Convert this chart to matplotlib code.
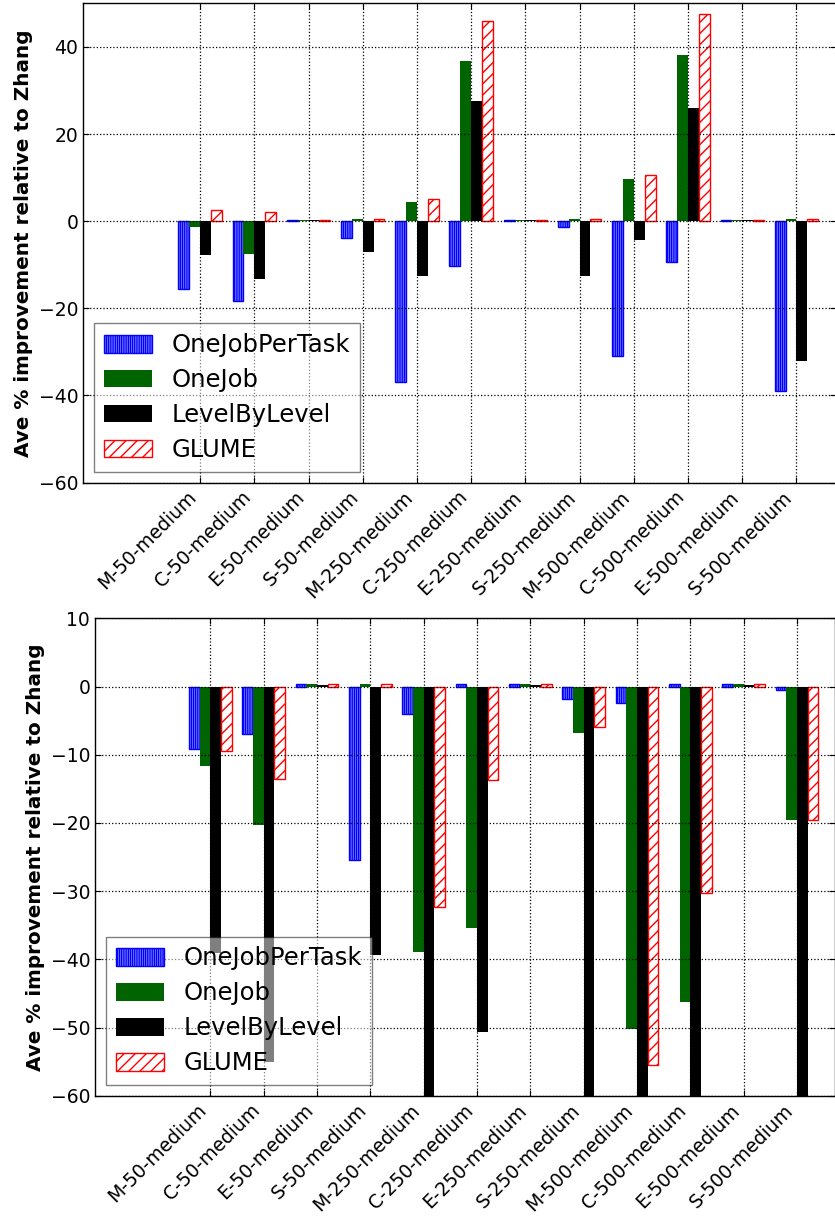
import numpy as np
import matplotlib
matplotlib.use("Agg")
from matplotlib import pyplot as plt

# workflow categories on the x axis
labels = ["M-50-medium", "C-50-medium", "E-50-medium", "S-50-medium",
          "M-250-medium", "C-250-medium", "E-250-medium", "S-250-medium",
          "M-500-medium", "C-500-medium", "E-500-medium", "S-500-medium"]
series_names = ["OneJobPerTask", "OneJob", "LevelByLevel", "GLUME"]

# top panel: ave % improvement relative to Zhang
top_onejobpertask = [-15.5, -18.3, 0.3, -3.8, -36.9, -10.3, 0.3, -1.3, -31.0, -9.3, 0.3, -38.9]
top_onejob = [-1.3, -7.6, 0.3, 0.4, 4.3, 36.7, 0.3, 0.4, 9.7, 38.1, 0.3, 0.4]
top_levelbylevel = [-7.7, -13.3, 0.2, -7.1, -12.6, 27.5, 0.2, -12.6, -4.4, 25.9, 0.2, -32.0]
top_glume = [2.5, 2.1, 0.3, 0.4, 5.1, 45.9, 0.3, 0.4, 10.5, 47.5, 0.3, 0.4]

# bottom panel (black bars past -60 are cut off by the axis)
bot_onejobpertask = [-9.1, -6.9, 0.4, -25.5, -4.0, 0.4, 0.4, -1.9, -2.4, 0.4, 0.4, -0.5]
bot_onejob = [-11.6, -20.3, 0.4, 0.4, -38.9, -35.4, 0.4, -6.8, -50.2, -46.2, 0.4, -19.6]
bot_levelbylevel = [-39.1, -55.1, 0.2, -39.3, -65.0, -50.7, 0.2, -65.0, -65.0, -65.0, 0.2, -65.0]
bot_glume = [-9.4, -13.6, 0.4, 0.4, -32.3, -13.7, 0.4, -6.0, -55.5, -30.2, 0.4, -19.5]

plt.rcParams['font.family'] = ['DejaVu Sans']
plt.rcParams['font.size'] = 13.5
plt.rcParams['xtick.direction'] = 'in'
plt.rcParams['ytick.direction'] = 'in'
plt.rcParams['xtick.top'] = True
plt.rcParams['ytick.right'] = True
plt.rcParams['xtick.major.size'] = 4
plt.rcParams['ytick.major.size'] = 4
plt.rcParams['hatch.linewidth'] = 1.0
plt.rcParams['axes.linewidth'] = 1.0


def draw_panel(ax, data, yticks, ylim):
    ind = np.arange(len(labels))
    w = 0.2
    a, b, c, d = data
    ax.bar(ind - 1.5 * w, a, w, facecolor='#d8d8ff', edgecolor='blue',
           hatch='|||||||||', linewidth=1.0, label=series_names[0])
    ax.bar(ind - 0.5 * w, b, w, color='#006400', linewidth=0, label=series_names[1])
    ax.bar(ind + 0.5 * w, c, w, color='black', linewidth=0, label=series_names[2])
    ax.bar(ind + 1.5 * w, d, w, facecolor='white', edgecolor='red',
           hatch='///', linewidth=1.0, label=series_names[3])
    ax.set_xticks(ind)
    ax.set_xticklabels(labels, rotation=45, ha='right')
    ax.set_yticks(yticks)
    ax.set_ylim(ylim)
    ax.set_xlim(-2.16, 11.72)
    ax.grid(True, linestyle=':', color='k', linewidth=0.9)
    ax.set_axisbelow(False)
    ax.set_ylabel("Ave % improvement relative to Zhang", fontweight='bold', fontsize=14.4)
    leg = ax.legend(loc='lower left', fontsize=17.5, framealpha=0.5, fancybox=False,
                    edgecolor='black', handlelength=2.0, handleheight=0.75,
                    labelspacing=0.45, borderaxespad=0.45)
    leg.get_frame().set_linewidth(1.0)


fig = plt.figure(figsize=(8.35, 12.19), dpi=100)
ax1 = fig.add_axes([83 / 835, 1 - 482.6 / 1219, 752.5 / 835, 479.3 / 1219])
draw_panel(ax1, [top_onejobpertask, top_onejob, top_levelbylevel, top_glume],
           np.arange(-60, 41, 20), (-60, 50))

ax2 = fig.add_axes([95 / 835, 1 - 1095.8 / 1219, 740.5 / 835, 477.5 / 1219])
draw_panel(ax2, [bot_onejobpertask, bot_onejob, bot_levelbylevel, bot_glume],
           np.arange(-60, 11, 10), (-60, 10))

fig.savefig("out.png", dpi=100)
